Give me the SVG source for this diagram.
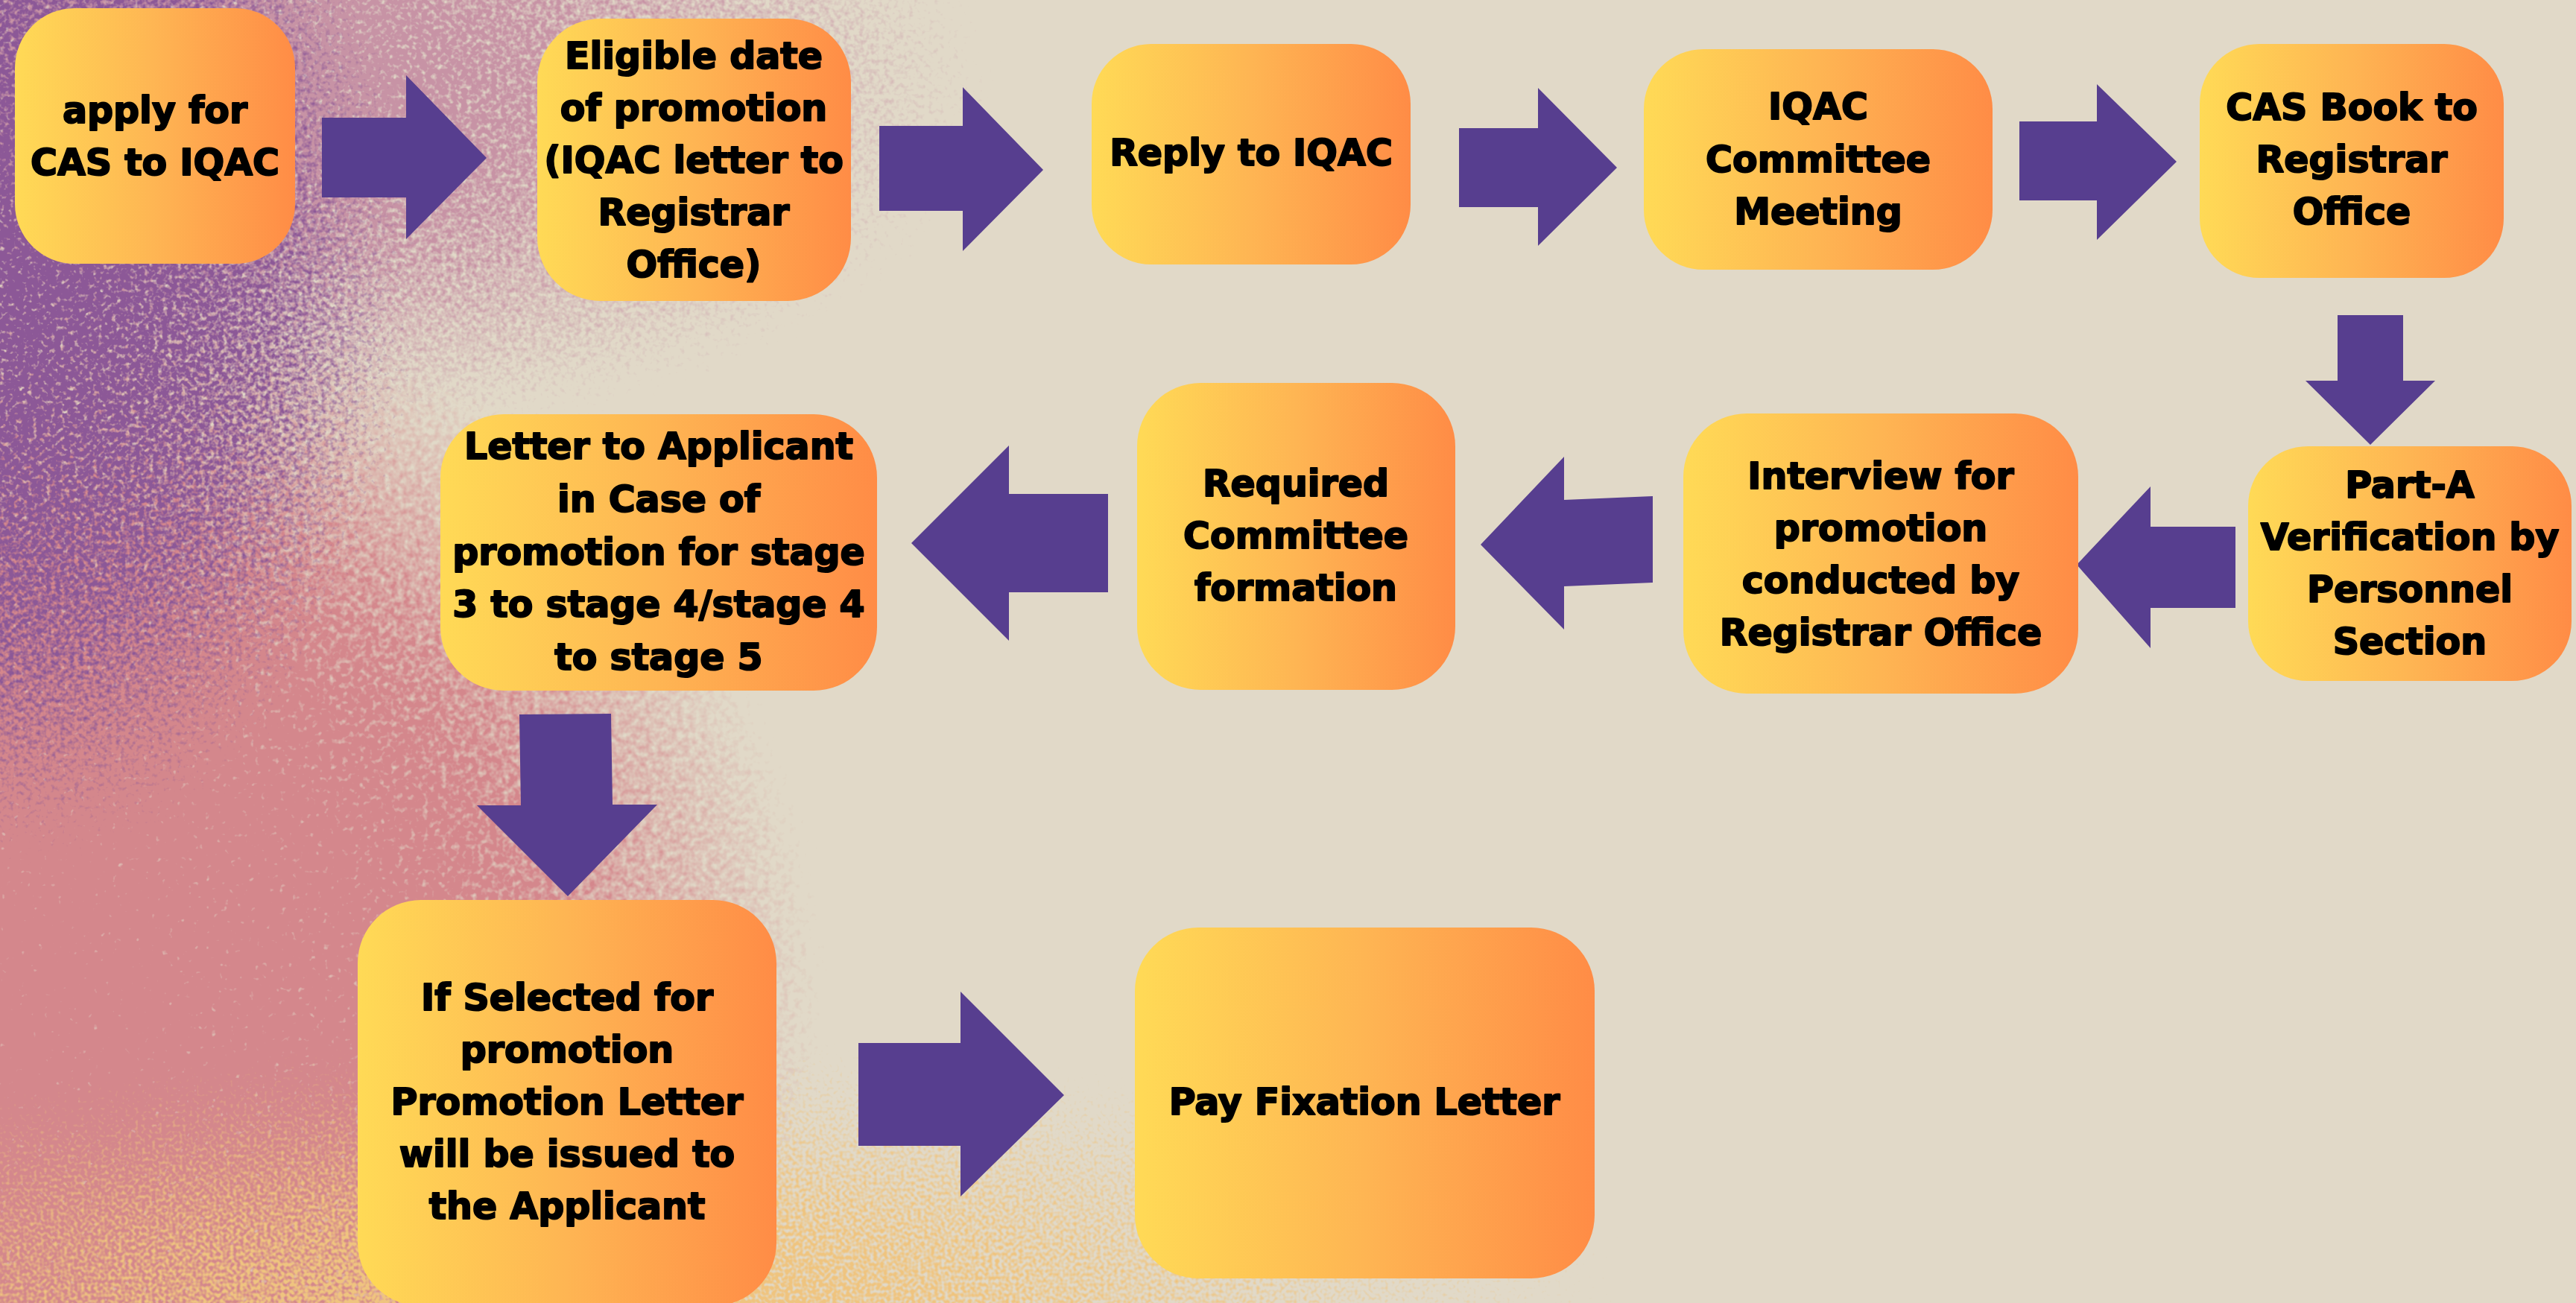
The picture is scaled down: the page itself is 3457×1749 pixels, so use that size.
<svg xmlns="http://www.w3.org/2000/svg" width="3457" height="1749" viewBox="0 0 3457 1749">
  <style>
    .box { fill: url(#boxFill); }
    .lbl { font-family: "DejaVu Sans", "Liberation Sans", sans-serif; font-weight: bold; font-size: 49px; fill: #000; stroke: #000; stroke-width: 2px; stroke-linejoin: round; text-anchor: middle; }
    .arrow { fill: #573E8F; }
  </style>
  <defs>
    <linearGradient id="boxFill" x1="0" y1="0" x2="1" y2="0">
      <stop offset="0" stop-color="#FFDA56"/>
      <stop offset="0.5" stop-color="#FEB553"/>
      <stop offset="1" stop-color="#FF8C46"/>
    </linearGradient>

    <!-- alpha ramps; the colour of each wash comes from its filter -->
    <radialGradient id="rampPink" gradientUnits="userSpaceOnUse" cx="0" cy="0" r="1" gradientTransform="translate(0 1350) scale(1200 1100)">
      <stop offset="0" stop-color="#fff" stop-opacity="1"/>
      <stop offset="0.4" stop-color="#fff" stop-opacity="0.8"/>
      <stop offset="1" stop-color="#fff" stop-opacity="0"/>
    </radialGradient>
    <radialGradient id="rampPurple" gradientUnits="userSpaceOnUse" cx="0" cy="0" r="1" gradientTransform="translate(0 380) scale(700 950)">
      <stop offset="0" stop-color="#fff" stop-opacity="0.75"/>
      <stop offset="0.5" stop-color="#fff" stop-opacity="0.45"/>
      <stop offset="1" stop-color="#fff" stop-opacity="0"/>
    </radialGradient>
    <radialGradient id="rampTop" gradientUnits="userSpaceOnUse" cx="0" cy="0" r="1" gradientTransform="translate(250 120) scale(1300 600)">
      <stop offset="0" stop-color="#fff" stop-opacity="0.85"/>
      <stop offset="1" stop-color="#fff" stop-opacity="0"/>
    </radialGradient>
    <radialGradient id="rampGold" gradientUnits="userSpaceOnUse" cx="0" cy="0" r="1" gradientTransform="translate(800 1749) scale(2000 520)">
      <stop offset="0" stop-color="#fff" stop-opacity="0.5"/>
      <stop offset="1" stop-color="#fff" stop-opacity="0"/>
    </radialGradient>

    <filter id="grainPink" filterUnits="userSpaceOnUse" x="0" y="0" width="3457" height="1749" color-interpolation-filters="sRGB">
      <feTurbulence type="fractalNoise" baseFrequency="0.12" numOctaves="2" seed="4" result="noise"/>
      <feColorMatrix in="noise" type="matrix" values="0 0 0 0 0  0 0 0 0 0  0 0 0 0 0  1 0 0 0 0" result="na"/>
      <feComposite in="SourceAlpha" in2="na" operator="arithmetic" k1="1.6" k2="0.2" k3="0" k4="0" result="m"/>
      <feComponentTransfer in="m" result="m2"><feFuncA type="linear" slope="2.2" intercept="-0.3"/></feComponentTransfer>
      <feFlood flood-color="#D4878C"/>
      <feComposite in2="m2" operator="in"/>
    </filter>
    <filter id="grainPurple" filterUnits="userSpaceOnUse" x="0" y="0" width="3457" height="1749" color-interpolation-filters="sRGB">
      <feTurbulence type="fractalNoise" baseFrequency="0.16" numOctaves="2" seed="11" result="noise"/>
      <feColorMatrix in="noise" type="matrix" values="0 0 0 0 0  0 0 0 0 0  0 0 0 0 0  1 0 0 0 0" result="na"/>
      <feComposite in="SourceAlpha" in2="na" operator="arithmetic" k1="2" k2="0" k3="0" k4="0" result="m"/>
      <feComponentTransfer in="m" result="m2"><feFuncA type="linear" slope="3" intercept="-0.75"/></feComponentTransfer>
      <feFlood flood-color="#8C5897"/>
      <feComposite in2="m2" operator="in"/>
    </filter>
    <filter id="grainTop" filterUnits="userSpaceOnUse" x="0" y="0" width="3457" height="1749" color-interpolation-filters="sRGB">
      <feTurbulence type="fractalNoise" baseFrequency="0.15" numOctaves="2" seed="31" result="noise"/>
      <feColorMatrix in="noise" type="matrix" values="0 0 0 0 0  0 0 0 0 0  0 0 0 0 0  1 0 0 0 0" result="na"/>
      <feComposite in="SourceAlpha" in2="na" operator="arithmetic" k1="1.8" k2="0.1" k3="0" k4="0" result="m"/>
      <feComponentTransfer in="m" result="m2"><feFuncA type="linear" slope="2.4" intercept="-0.5"/></feComponentTransfer>
      <feFlood flood-color="#C793A5"/>
      <feComposite in2="m2" operator="in"/>
    </filter>
    <filter id="grainGold" filterUnits="userSpaceOnUse" x="0" y="0" width="3457" height="1749" color-interpolation-filters="sRGB">
      <feTurbulence type="fractalNoise" baseFrequency="0.22" numOctaves="1" seed="23" result="noise"/>
      <feColorMatrix in="noise" type="matrix" values="0 0 0 0 0  0 0 0 0 0  0 0 0 0 0  1 0 0 0 0" result="na"/>
      <feComposite in="SourceAlpha" in2="na" operator="arithmetic" k1="2.2" k2="0" k3="0" k4="0" result="m"/>
      <feComponentTransfer in="m" result="m2"><feFuncA type="linear" slope="3.5" intercept="-0.9"/></feComponentTransfer>
      <feFlood flood-color="#EFC47F"/>
      <feComposite in2="m2" operator="in"/>
    </filter>
  </defs>

  <!-- backdrop: plain beige with grainy washes toward the left -->
  <g id="backdrop">
    <rect width="3457" height="1749" fill="#E1D9C8"/>
    <rect width="3457" height="1749" fill="url(#rampTop)" filter="url(#grainTop)"/>
    <rect width="3457" height="1749" fill="url(#rampPink)" filter="url(#grainPink)"/>
    <rect width="3457" height="1749" fill="url(#rampGold)" filter="url(#grainGold)"/>
    <rect width="3457" height="1749" fill="url(#rampPurple)" filter="url(#grainPurple)"/>
  </g>

  <!-- block arrows between the steps -->
  <g id="connectors">
    <polygon class="arrow" points="432,158 545,158 545,101 653,212 545,321 545,265 432,265"/>
    <polygon class="arrow" points="1180,169 1292,169 1292,117 1400,228 1292,337 1292,283 1180,283"/>
    <polygon class="arrow" points="1958,172 2064,172 2064,118 2170,225 2064,330 2064,278 1958,278"/>
    <polygon class="arrow" points="2710,163 2814,163 2814,113 2921,217 2814,322 2814,269 2710,269"/>
    <polygon class="arrow" points="3137,423 3225,423 3225,511 3268,511 3181,597 3094,511 3137,511"/>
    <polygon class="arrow" points="3000,707 2886,707 2886,653 2787,758 2886,870 2886,816 3000,816"/>
    <polygon class="arrow" points="2218,666 2099,671 2099,613 1987,731 2099,845 2099,787 2218,782"/>
    <polygon class="arrow" points="1487,663 1354,663 1354,598 1223,729 1354,860 1354,795 1487,795"/>
    <polygon class="arrow" points="697,959 820,958 822,1080 882,1080 762,1203 640,1081 699,1081"/>
    <polygon class="arrow" points="1152,1400 1289,1400 1289,1331 1428,1470 1289,1606 1289,1538 1152,1538"/>
  </g>

  <g id="step-apply">
    <rect class="box" x="20" y="11" width="376" height="343" rx="80"/>
    <text class="lbl" x="208"><tspan x="208" y="165">apply for</tspan><tspan x="208" y="235">CAS to IQAC</tspan></text>
  </g>
  <g id="step-eligible">
    <rect class="box" x="721" y="25" width="421" height="379" rx="85"/>
    <text class="lbl" x="931"><tspan x="931" y="92">Eligible date</tspan><tspan x="931" y="162">of promotion</tspan><tspan x="931" y="232">(IQAC letter to</tspan><tspan x="931" y="302">Registrar</tspan><tspan x="931" y="372">Office)</tspan></text>
  </g>
  <g id="step-reply">
    <rect class="box" x="1465" y="59" width="428" height="296" rx="80"/>
    <text class="lbl" x="1679" y="222">Reply to IQAC</text>
  </g>
  <g id="step-iqac-meeting">
    <rect class="box" x="2206" y="66" width="468" height="296" rx="80"/>
    <text class="lbl" x="2440"><tspan x="2440" y="160">IQAC</tspan><tspan x="2440" y="231">Committee</tspan><tspan x="2440" y="301">Meeting</tspan></text>
  </g>
  <g id="step-cas-book">
    <rect class="box" x="2952" y="59" width="408" height="314" rx="80"/>
    <text class="lbl" x="3156"><tspan x="3156" y="161">CAS Book to</tspan><tspan x="3156" y="231">Registrar</tspan><tspan x="3156" y="301">Office</tspan></text>
  </g>
  <g id="step-part-a">
    <rect class="box" x="3017" y="599" width="434" height="315" rx="80"/>
    <text class="lbl" x="3234"><tspan x="3234" y="668">Part-A</tspan><tspan x="3234" y="738">Verification by</tspan><tspan x="3234" y="808">Personnel</tspan><tspan x="3234" y="878">Section</tspan></text>
  </g>
  <g id="step-interview">
    <rect class="box" x="2259" y="555" width="530" height="376" rx="85"/>
    <text class="lbl" x="2524"><tspan x="2524" y="656">Interview for</tspan><tspan x="2524" y="726">promotion</tspan><tspan x="2524" y="796">conducted by</tspan><tspan x="2524" y="866">Registrar Office</tspan></text>
  </g>
  <g id="step-committee">
    <rect class="box" x="1526" y="514" width="427" height="412" rx="85"/>
    <text class="lbl" x="1739"><tspan x="1739" y="666">Required</tspan><tspan x="1739" y="736">Committee</tspan><tspan x="1739" y="806">formation</tspan></text>
  </g>
  <g id="step-letter">
    <rect class="box" x="591" y="556" width="586" height="371" rx="85"/>
    <text class="lbl" x="884"><tspan x="884" y="616">Letter to Applicant</tspan><tspan x="884" y="687">in Case of</tspan><tspan x="884" y="758">promotion for stage</tspan><tspan x="884" y="828">3 to stage 4/stage 4</tspan><tspan x="884" y="899">to stage 5</tspan></text>
  </g>
  <g id="step-selected">
    <rect class="box" x="480" y="1208" width="562" height="545" rx="85"/>
    <text class="lbl" x="761"><tspan x="761" y="1356">If Selected for</tspan><tspan x="761" y="1426">promotion</tspan><tspan x="761" y="1496">Promotion Letter</tspan><tspan x="761" y="1566">will be issued to</tspan><tspan x="761" y="1636">the Applicant</tspan></text>
  </g>
  <g id="step-pay">
    <rect class="box" x="1523" y="1245" width="617" height="471" rx="85"/>
    <text class="lbl" x="1831" y="1496">Pay Fixation Letter</text>
  </g>
</svg>
